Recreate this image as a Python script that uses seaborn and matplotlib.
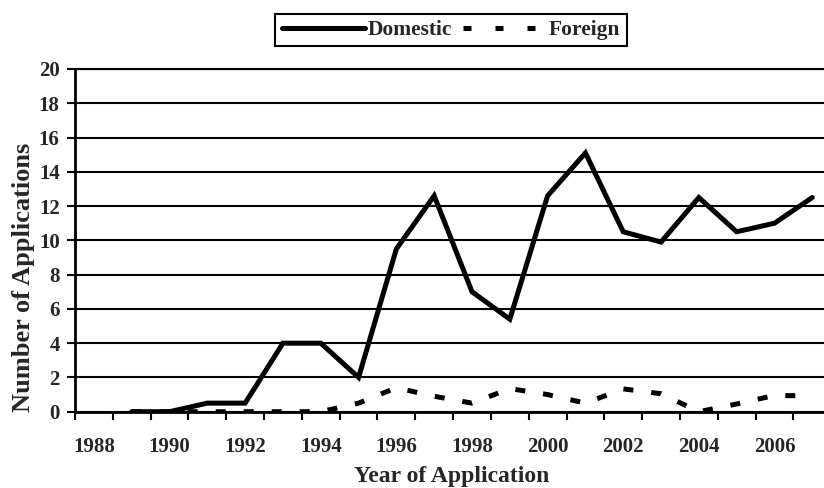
import pandas as pd
import matplotlib
matplotlib.use("Agg")
import matplotlib.pyplot as plt
from matplotlib.lines import Line2D
from matplotlib.ticker import FixedLocator, NullFormatter
import seaborn as sns

# values
years = list(range(1989, 2008))
domestic = [0, 0, 0.5, 0.5, 4, 4, 2, 9.5, 12.6, 7, 5.4, 12.6, 15.1, 10.5, 9.9, 12.5, 10.5, 11, 12.5]
foreign = [0, 0, 0, 0, 0, 0, 0.5, 1.4, 0.9, 0.5, 1.35, 1.0, 0.5, 1.33, 1.05, 0, 0.45, 0.95, 0.92]
year_labels = list(range(1988, 2007, 2))
y_ticks = list(range(0, 21, 2))
series_names = ["Domestic", "Foreign"]


def main():
    sns.set_style("white")
    plt.rcParams["font.family"] = ["Liberation Serif", "DejaVu Serif"]
    plt.rcParams["font.weight"] = "bold"

    df = pd.DataFrame({"Year": years, "Domestic": domestic, "Foreign": foreign})
    long_df = df.melt(id_vars="Year", var_name="Series", value_name="Count")

    fig, ax = plt.subplots(figsize=(8.24, 4.88), dpi=100)
    fig.subplots_adjust(left=75 / 824, right=1.0,
                        bottom=(488 - 411.7) / 488, top=(488 - 69) / 488)

    sns.lineplot(data=long_df, x="Year", y="Count", hue="Series", style="Series",
                 palette={"Domestic": "black", "Foreign": "black"},
                 dashes={"Domestic": "", "Foreign": (2.0, 3.6)},
                 linewidth=3.6, legend=False, ax=ax,
                 solid_joinstyle="miter")

    ax.set_xlim(1987.5, 2007.31)
    ax.set_ylim(0, 20)

    # labels centred on the years, tick marks between categories
    ax.set_xticks(year_labels)
    ax.set_xticklabels([str(y) for y in year_labels])
    ax.xaxis.set_minor_locator(FixedLocator([y + 0.5 for y in range(1987, 2008)]))
    ax.xaxis.set_minor_formatter(NullFormatter())
    ax.tick_params(axis="x", which="major", length=0, pad=18, labelsize=15)
    ax.tick_params(axis="x", which="minor", length=6, width=1.5, color="black",
                   direction="out", bottom=True)

    ax.set_yticks(y_ticks)
    ax.tick_params(axis="y", length=6, width=1.5, color="black", direction="out",
                   left=True, pad=5, labelsize=15)

    ax.yaxis.grid(True, color="black", linewidth=1.5)
    ax.xaxis.grid(False)
    ax.set_axisbelow(True)

    for side in ["left", "bottom"]:
        ax.spines[side].set_linewidth(2)
        ax.spines[side].set_color("black")
    ax.spines["top"].set_linewidth(1.5)
    ax.spines["top"].set_color("black")
    ax.spines["right"].set_visible(False)

    ax.set_xlabel("Year of Application", fontsize=17, fontweight="bold")
    ax.set_ylabel("Number of Applications", fontsize=19, fontweight="bold")
    ax.xaxis.set_label_coords(0.503, -0.158)
    ax.yaxis.set_label_coords(-0.053, 0.392)
    ax.xaxis.label.set_va("top")

    handles = [
        Line2D([], [], color="black", linewidth=3.6),
        Line2D([], [], color="black", linewidth=3.6, dashes=(1.6, 4.8)),
    ]
    leg = fig.legend(handles, series_names, loc="center",
                     bbox_to_anchor=(451 / 824, 1 - 30 / 488), ncol=2,
                     fontsize=15.5, frameon=True, fancybox=False, shadow=False,
                     handlelength=3.9, handletextpad=0.1, columnspacing=0.5,
                     borderpad=0.3, borderaxespad=0)
    frame = leg.get_frame()
    frame.set_edgecolor("black")
    frame.set_linewidth(1.5)
    frame.set_alpha(1)

    fig.savefig("out.png", dpi=100)


if __name__ == "__main__":
    main()
